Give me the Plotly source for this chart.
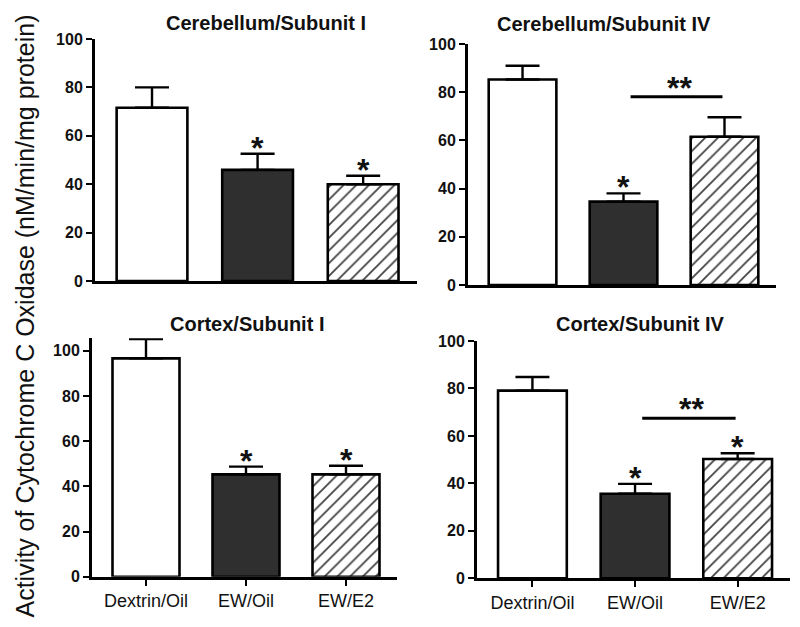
import plotly.graph_objects as go

# ---------------- data ----------------
groups = ["Dextrin/Oil", "EW/Oil", "EW/E2"]

titles = ["Cerebellum/Subunit I", "Cerebellum/Subunit IV",
          "Cortex/Subunit I", "Cortex/Subunit IV"]

cb1_mean = [71.6, 45.9, 40.0]
cb1_sem = [8.4, 6.7, 3.5]
cb4_mean = [85.3, 34.6, 61.5]
cb4_sem = [5.7, 3.4, 8.1]
cx1_mean = [96.6, 45.3, 45.3]
cx1_sem = [8.6, 3.4, 3.8]
cx4_mean = [79.1, 35.6, 50.3]
cx4_sem = [5.7, 4.2, 2.4]

cb1_sig = ["", "*", "*"]
cb4_sig = ["", "*", ""]
cx1_sig = ["", "*", "*"]
cx4_sig = ["", "*", "*"]

# bracket (EW/Oil vs EW/E2) : panel index -> y level of line
bracket_level = {1: 78.1, 3: 67.4}
bracket_label = "**"

y_label = "Activity of Cytochrome C Oxidase (nM/min/mg protein)"

means = [cb1_mean, cb4_mean, cx1_mean, cx4_mean]
sems = [cb1_sem, cb4_sem, cx1_sem, cx4_sem]
sigs = [cb1_sig, cb4_sig, cx1_sig, cx4_sig]

# ---------------- layout geometry (page pixels) ----------------
W, H = 800, 627
OFF = 8  # page body margin offset
# (x_left, x_right, y_bottom_px, y_top_px, ymax)
geom = [
    (95, 417, 281, 39, 100),
    (468, 776, 285, 44, 100),
    (92, 397, 576.7, 338.3, 105.5),
    (477, 790, 578.3, 341, 100),
]
title_pos = [(265.5, 23), (604, 24), (247, 324), (640, 324)]


def px(x):
    return (x - OFF) / W


def py(y):
    return 1 - (y - OFF) / H


fills = ["white", "#2f2f2f", "white"]
patterns = ["", "", "/"]

FAM = "Liberation Sans, Arial, sans-serif"
TICKFONT = dict(family=FAM, size=16, color="#111", weight="bold")
XTICKFONT = dict(family=FAM, size=18, color="#111")

fig = go.Figure()
layout = dict(
    width=W, height=H,
    margin=dict(l=0, r=0, t=0, b=0),
    paper_bgcolor="white", plot_bgcolor="white",
    showlegend=False,
)
annotations = []
shapes = []

xs = list(range(len(groups)))

for i in range(4):
    xl, xr, yb, yt, ymax = geom[i]
    ax = "" if i == 0 else str(i + 1)
    xname, yname = "x" + ax, "y" + ax
    fig.add_trace(go.Bar(
        x=xs, y=means[i], width=0.67,
        xaxis=xname, yaxis=yname,
        marker=dict(color=fills,
                    line=dict(color="black", width=2.6),
                    pattern=dict(shape=patterns, fgcolor="black", bgcolor="white",
                                 fgopacity=1, size=9, solidity=0.2)),
        error_y=dict(type="data", symmetric=False, array=sems[i],
                     arrayminus=[0, 0, 0], color="black", thickness=2.4, width=17),
        hoverinfo="skip",
    ))
    bottom = i >= 2
    layout["xaxis" + ax] = dict(
        domain=[px(xl), px(xr)], anchor=yname,
        range=[-0.54, 2.51], showgrid=False, zeroline=False,
        showline=True, linecolor="black", linewidth=3,
        tickmode="array", tickvals=xs,
        ticktext=groups if bottom else ["", "", ""],
        ticks="outside" if bottom else "", ticklen=6, tickwidth=2, tickcolor="black",
        tickfont=XTICKFONT, automargin=False, fixedrange=True,
    )
    layout["yaxis" + ax] = dict(
        domain=[py(yb), py(yt)], anchor=xname,
        range=[0, ymax], showgrid=False, zeroline=False,
        showline=True, linecolor="black", linewidth=3,
        tickmode="array", tickvals=[0, 20, 40, 60, 80, 100],
        ticks="outside", ticklen=6, tickwidth=2.4, tickcolor="black",
        tickfont=TICKFONT, automargin=False, fixedrange=True,
    )
    # significance stars
    for j, s in enumerate(sigs[i]):
        if s:
            annotations.append(dict(
                x=xs[j], y=means[i][j] + sems[i][j], xref=xname, yref=yname,
                text="<b>" + s + "</b>", showarrow=False, yanchor="middle",
                yshift=6, font=dict(family=FAM, size=32, color="#111"),
            ))
    if i in bracket_level:
        lvl = bracket_level[i]
        shapes.append(dict(type="line", xref=xname, yref=yname,
                           x0=1.07, x1=1.98, y0=lvl, y1=lvl,
                           line=dict(color="black", width=3)))
        annotations.append(dict(
            x=1.55, y=lvl, xref=xname, yref=yname,
            text="<b>" + bracket_label + "</b>", showarrow=False, yanchor="middle",
            yshift=9, font=dict(family=FAM, size=32, color="#111"),
        ))
    tx, ty = title_pos[i]
    annotations.append(dict(
        x=px(tx), y=py(ty), xref="paper", yref="paper",
        text="<b>" + titles[i] + "</b>", showarrow=False,
        xanchor="center", yanchor="middle",
        font=dict(family=FAM, size=20, color="#111"),
    ))

annotations.append(dict(
    x=px(24), y=py(316.5), xref="paper", yref="paper",
    text=y_label, showarrow=False, textangle=-90,
    xanchor="center", yanchor="middle",
    font=dict(family=FAM, size=25, color="#111"),
))

layout["annotations"] = annotations
layout["shapes"] = shapes
fig.update_layout(**layout)
fig.write_html("out.html")
